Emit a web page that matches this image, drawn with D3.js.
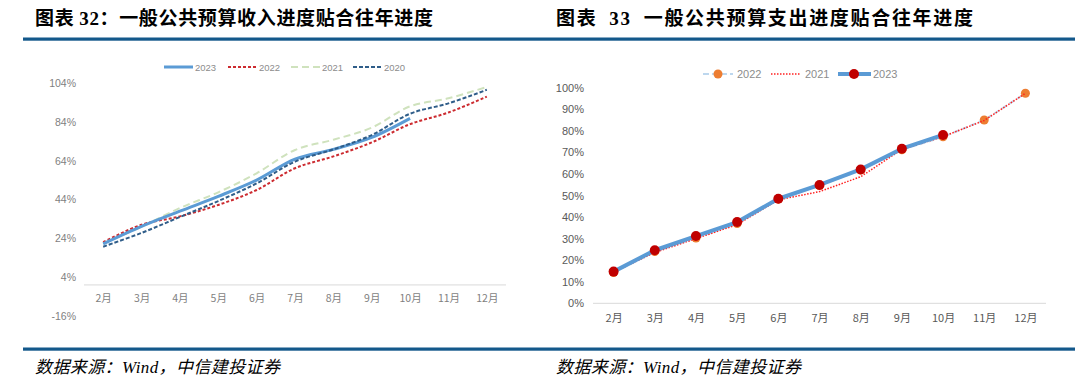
<!DOCTYPE html>
<html><head><meta charset="utf-8">
<script src="https://cdn.jsdelivr.net/npm/d3@7"></script>
<style>html,body{margin:0;padding:0;background:#fff;}svg{display:block;}</style>
</head><body>
<svg id="c" width="1080" height="384"></svg>
<script>
// ---------- DATA ----------
const months = ["2月","3月","4月","5月","6月","7月","8月","9月","10月","11月","12月"];
// Left chart: revenue progress (%)
const revTicks = [-16, 4, 24, 44, 64, 84, 104];
const rev2023 = [21.2, 30.2, 38.0, 45.6, 54.0, 64.8, 69.8, 76.0, 85.8];
const rev2022 = [22.0, 31.0, 35.3, 41.2, 48.9, 60.1, 66.2, 73.4, 82.8, 88.8, 97.0];
const rev2021 = [21.5, 30.0, 39.6, 47.7, 57.5, 69.5, 74.8, 81.0, 92.0, 96.1, 102.0];
const rev2020 = [19.7, 26.8, 35.0, 43.2, 52.3, 63.5, 69.8, 77.2, 88.2, 93.5, 100.5];
// Right chart: expenditure progress (%)
const expTicks = [0, 10, 20, 30, 40, 50, 60, 70, 80, 90, 100];
const exp2022 = [14.3, 24.0, 30.3, 37.0, 48.3, 54.6, 61.8, 71.2, 77.2, 85.0, 97.4];
const exp2021 = [14.5, 23.6, 30.0, 36.5, 48.0, 51.8, 58.7, 71.4, 77.3, 84.8, 97.4];
const exp2023 = [14.7, 24.6, 31.2, 37.7, 48.5, 54.9, 62.1, 71.7, 78.1];

const titleLeft = ["图表 ", "32", "：一般公共预算收入进度贴合往年进度"];
const titleRight = ["图表  ", "33", "  一般公共预算支出进度贴合往年进度"];
const sourceText = "数据来源：Wind，中信建投证券";

// ---------- DRAW ----------
const svg = d3.select("#c");
const RULE = "#13588b";
const CJK = "'Noto Sans CJK SC', sans-serif";
const LAT = "'Liberation Sans', Arial, sans-serif";

// Titles
function title(x, parts, len) {
  const t = svg.append("text").attr("x", x).attr("y", 25)
    .attr("font-size", 19).attr("font-weight", "bold").attr("fill", "#000")
    .attr("font-family", CJK).attr("xml:space", "preserve")
    .attr("textLength", len).attr("lengthAdjust", "spacing");
  parts.forEach((p, i) => {
    const s = t.append("tspan").text(p);
    if (i === 1) s.attr("font-family", "'Liberation Serif', serif");
  });
}
title(35, titleLeft, 398);
title(556, titleRight, 417);

// Rules
svg.append("rect").attr("x", 23).attr("y", 37.5).attr("width", 1052).attr("height", 3.2).attr("fill", RULE);
svg.append("rect").attr("x", 23).attr("y", 347.5).attr("width", 1052).attr("height", 3.2).attr("fill", RULE);

// Sources
[35, 556].forEach(x => {
  svg.append("text").attr("x", x).attr("y", 373).text(sourceText)
    .attr("font-size", 17).attr("font-style", "italic").attr("fill", "#000")
    .attr("font-family", "'Liberation Serif', " + CJK)
    .attr("textLength", 245).attr("lengthAdjust", "spacing");
});

// ---------- LEFT CHART ----------
{
  const x = d3.scalePoint().domain(months).range([84, 506]).padding(0.5);
  const y = d3.scaleLinear().domain([-16, 104]).range([316, 83]);
  const g = svg.append("g");
  const yAxis = d3.axisLeft(y).tickValues(revTicks).tickFormat(d => d + "%").tickSize(0).tickPadding(0);
  const ya = g.append("g").attr("transform", "translate(76,0)").call(yAxis);
  ya.select(".domain").remove();
  ya.selectAll("text").attr("fill", "#7f7f7f").attr("font-size", 10.5).attr("font-family", LAT);
  // x axis at 0%
  const xAxis = d3.axisBottom(x).tickSize(0).tickPadding(10);
  const xa = g.append("g").attr("transform", `translate(0,${y(0)})`).call(xAxis);
  xa.select(".domain").attr("stroke", "#d9d9d9").attr("stroke-width", 1).attr("d", "M84,0H506");
  xa.selectAll("text").attr("fill", "#7f7f7f").attr("font-size", 10.5).attr("font-family", CJK);

  const series = [
    {name: "2023", data: rev2023, color: "#5b9bd5", w: 3, dash: null},
    {name: "2022", data: rev2022, color: "#cc2b30", w: 2, dash: "3,2"},
    {name: "2021", data: rev2021, color: "#cfe2bd", w: 2, dash: "7,4"},
    {name: "2020", data: rev2020, color: "#2f5d89", w: 2, dash: "4,2"}
  ];
  const line = d3.line().x((d, i) => x(months[i])).y(d => y(d)).curve(d3.curveCatmullRom.alpha(0.5));
  const drawOrder = [2, 1, 0, 3];
  drawOrder.forEach(k => {
    const s = series[k];
    g.append("path").datum(s.data).attr("d", line).attr("fill", "none")
      .attr("stroke", s.color).attr("stroke-width", s.w)
      .attr("stroke-dasharray", s.dash).attr("stroke-linejoin", "round");
  });
  // legend
  const lx = [164, 228, 291, 353];
  series.forEach((s, i) => {
    g.append("line").attr("x1", lx[i]).attr("x2", lx[i] + 29).attr("y1", 67).attr("y2", 67)
      .attr("stroke", s.color).attr("stroke-width", s.w).attr("stroke-dasharray", s.dash);
    g.append("text").attr("x", lx[i] + 31).attr("y", 70.5).text(s.name)
      .attr("fill", "#8c8c8c").attr("font-size", 9.5).attr("font-family", LAT);
  });
}

// ---------- RIGHT CHART ----------
{
  const x = d3.scalePoint().domain(months).range([593, 1046]).padding(0.5);
  const y = d3.scaleLinear().domain([0, 100]).range([303.3, 87.7]);
  const g = svg.append("g");
  const yAxis = d3.axisLeft(y).tickValues(expTicks).tickFormat(d => d + "%").tickSize(0).tickPadding(0);
  const ya = g.append("g").attr("transform", "translate(584,0)").call(yAxis);
  ya.select(".domain").remove();
  ya.selectAll("text").attr("fill", "#595959").attr("font-size", 11).attr("font-family", LAT);
  const xAxis = d3.axisBottom(x).tickSize(0).tickPadding(11);
  const xa = g.append("g").attr("transform", `translate(0,${y(0)})`).call(xAxis);
  xa.select(".domain").attr("stroke", "#d9d9d9").attr("stroke-width", 1).attr("d", "M593,0H1046");
  xa.selectAll("text").attr("fill", "#595959").attr("font-size", 11).attr("font-family", CJK);

  const line = d3.line().x((d, i) => x(months[i])).y(d => y(d));
  // 2022
  g.append("path").datum(exp2022).attr("d", line).attr("fill", "none")
    .attr("stroke", "#bdd7ee").attr("stroke-width", 2).attr("stroke-dasharray", "6,3");
  g.selectAll(".d22").data(exp2022).enter().append("circle")
    .attr("cx", (d, i) => x(months[i])).attr("cy", d => y(d)).attr("r", 4.5).attr("fill", "#ed7d31");
  // 2021
  g.append("path").datum(exp2021).attr("d", line).attr("fill", "none")
    .attr("stroke", "#ff2020").attr("stroke-width", 1.5).attr("stroke-dasharray", "1.5,1.5");
  // 2023
  g.append("path").datum(exp2023).attr("d", line).attr("fill", "none")
    .attr("stroke", "#5b9bd5").attr("stroke-width", 4).attr("stroke-linejoin", "round");
  g.selectAll(".d23").data(exp2023).enter().append("circle")
    .attr("cx", (d, i) => x(months[i])).attr("cy", d => y(d)).attr("r", 5).attr("fill", "#c00000");

  // legend
  const ly = 74;
  g.append("line").attr("x1", 703).attr("x2", 733).attr("y1", ly).attr("y2", ly)
    .attr("stroke", "#bdd7ee").attr("stroke-width", 2).attr("stroke-dasharray", "6,3");
  g.append("circle").attr("cx", 718).attr("cy", ly).attr("r", 4.5).attr("fill", "#ed7d31");
  g.append("text").attr("x", 737).attr("y", ly + 4).text("2022").attr("fill", "#8c8c8c").attr("font-size", 11).attr("font-family", LAT);
  g.append("line").attr("x1", 771).attr("x2", 801).attr("y1", ly).attr("y2", ly)
    .attr("stroke", "#ff2020").attr("stroke-width", 1.5).attr("stroke-dasharray", "1.5,1.5");
  g.append("text").attr("x", 805).attr("y", ly + 4).text("2021").attr("fill", "#8c8c8c").attr("font-size", 11).attr("font-family", LAT);
  g.append("line").attr("x1", 838).attr("x2", 871).attr("y1", ly).attr("y2", ly)
    .attr("stroke", "#5b9bd5").attr("stroke-width", 4);
  g.append("circle").attr("cx", 854).attr("cy", ly).attr("r", 5).attr("fill", "#c00000");
  g.append("text").attr("x", 873).attr("y", ly + 4).text("2023").attr("fill", "#8c8c8c").attr("font-size", 11).attr("font-family", LAT);
}
</script>
</body></html>
